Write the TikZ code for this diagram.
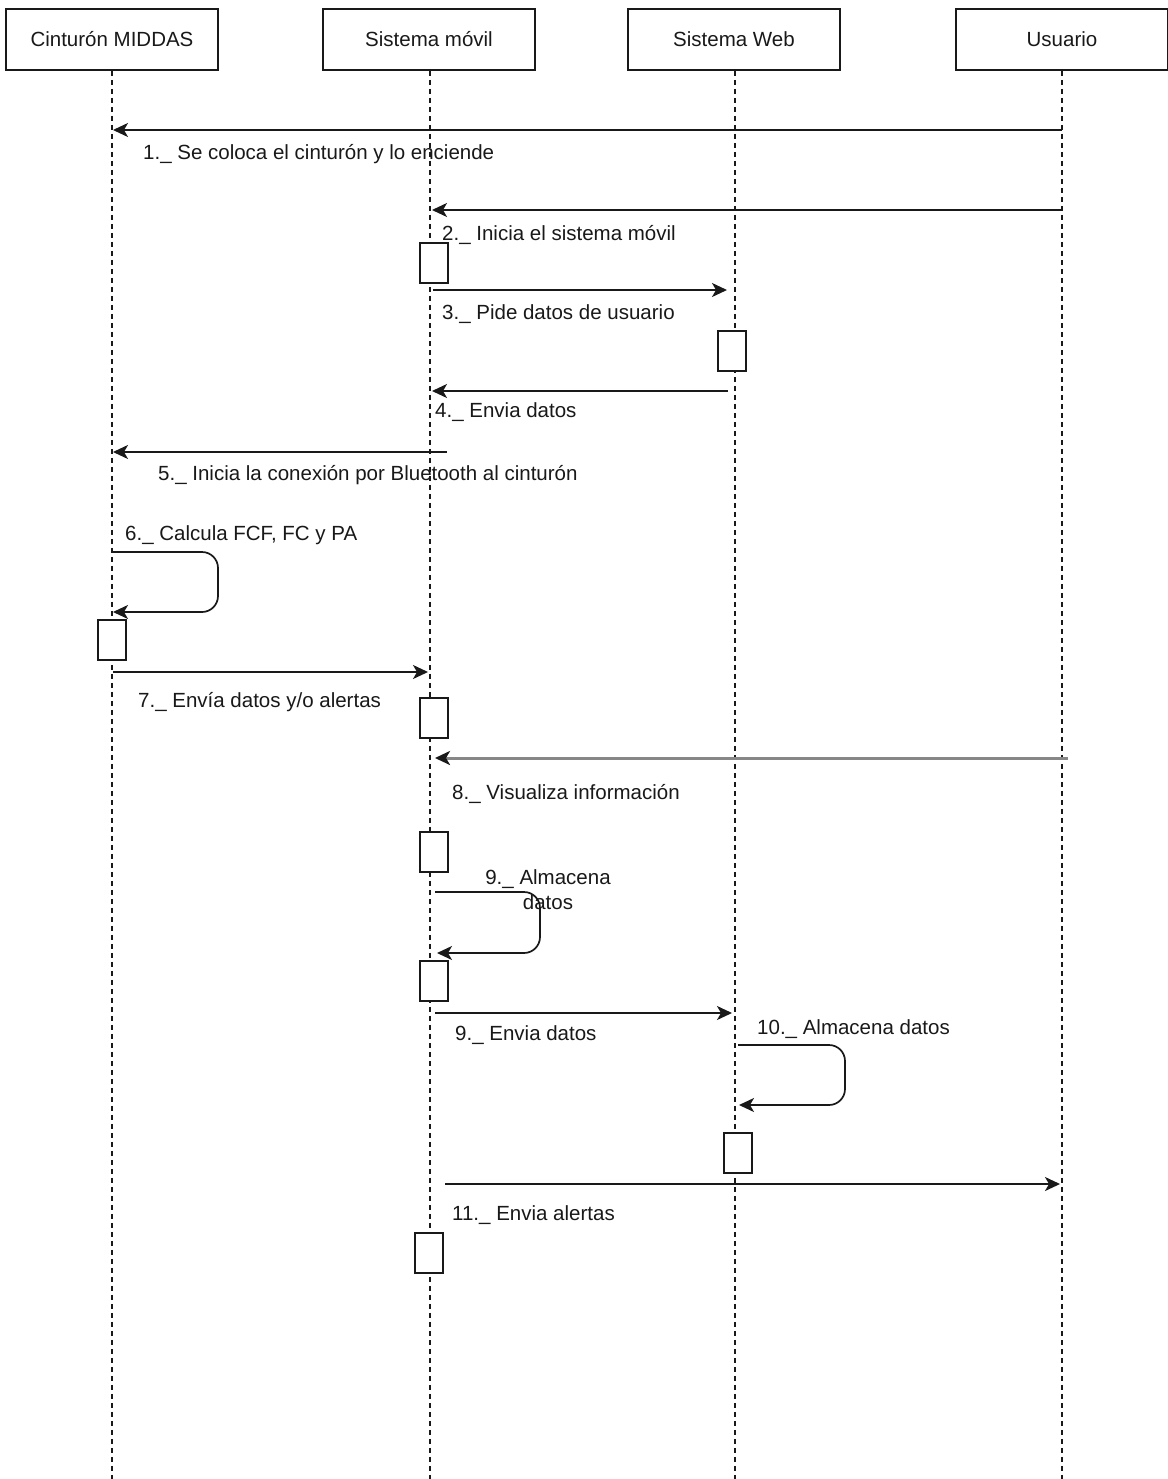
\documentclass[tikz,border=0pt]{standalone}
\usepackage{fontspec}
\setmainfont{Liberation Sans}
\usetikzlibrary{positioning,arrows.meta}
\definecolor{cLine}{RGB}{25,25,25}
\definecolor{cGrey}{RGB}{135,135,135}

\begin{document}
\begin{tikzpicture}[x=1pt, y=-1pt, font=\fontsize{20.5}{25}\selectfont]

%% ── shared styles ─────────────────────────────────────────────────────────
\tikzset{
  actor/.style={
    rectangle, draw=cLine, fill=white, line width=1.6pt,
    minimum width=212pt, minimum height=61pt, inner sep=0pt, text=cLine
  },
  act/.style={
    rectangle, draw=cLine, fill=white, line width=1.8pt,
    minimum width=28pt, minimum height=40pt, inner sep=0pt
  },
  life/.style={cLine, line width=1.4pt, dash pattern=on 5pt off 4pt},
  msg/.style ={-{Stealth[length=15pt, width=14pt, inset=4pt]}, line width=1.7pt, cLine},
  gmsg/.style={-{Stealth[length=15pt, width=14pt, inset=4pt, color=cLine]}, line width=3pt, cGrey},
  selfmsg/.style={msg, rounded corners=16pt},
  lbl/.style={anchor=west, inner sep=0pt, text=cLine},
}

\useasboundingbox (0,0) rectangle (1167,1479);
\fill[white] (0,0) rectangle (1167,1479);

%% ── lifeline x-centres ────────────────────────────────────────────────────
\def\cA{112}
\def\cB{430}
\def\cC{735}
\def\cD{1062}
\def\yEnd{1479}

%% ── participants ──────────────────────────────────────────────────────────
\node[actor] (P1) at (\cA,39.5)  {Cinturón MIDDAS};
\node[actor] (P2) at (429,39.5)  {Sistema móvil};
\node[actor] (P3) at (734,39.5)  {Sistema Web};
\node[actor] (P4) at (\cD,39.5)  {Usuario};

\coordinate (E1) at (\cA,\yEnd);
\coordinate (E2) at (\cB,\yEnd);
\coordinate (E3) at (\cC,\yEnd);
\coordinate (E4) at (\cD,\yEnd);

\draw[life] (P1) -- (E1);
\draw[life] (P2.south -| \cB,0) -- (E2);
\draw[life] (P3.south -| \cC,0) -- (E3);
\draw[life] (P4) -- (E4);

%% ── activation boxes ──────────────────────────────────────────────────────
\node[act] (P2A1) at (434,263)  {};
\node[act] (P3A1) at (732,351)  {};
\node[act] (P1A1) at (112,640)  {};
\node[act] (P2A2) at (434,718)  {};
\node[act] (P2A3) at (434,852)  {};
\node[act] (P2A4) at (434,981)  {};
\node[act] (P3A2) at (738,1153) {};
\node[act] (P2A5) at (429,1253) {};

%% ── message end points ────────────────────────────────────────────────────
\coordinate (M1a) at (\cD,130);   \coordinate (M1b) at (113,130);
\coordinate (M2a) at (\cD,210);   \coordinate (M2b) at (432,210);
\coordinate (M3a) at (433,290);   \coordinate (M3b) at (727,290);
\coordinate (M4a) at (728,391);   \coordinate (M4b) at (432,391);
\coordinate (M5a) at (447,452);   \coordinate (M5b) at (113,452);
\coordinate (M6a) at (\cA,552);   \coordinate (M6b) at (113,612);
\coordinate (M7a) at (113,672);   \coordinate (M7b) at (428,672);
\coordinate (M8a) at (1068,758);  \coordinate (M8b) at (435,758);
\coordinate (M9a) at (435,892);   \coordinate (M9b) at (437,953);
\coordinate (N9a) at (435,1013);  \coordinate (N9b) at (732,1013);
\coordinate (M10a) at (738,1045); \coordinate (M10b) at (739,1105);
\coordinate (M11a) at (445,1184); \coordinate (M11b) at (1060,1184);

%% ── messages ──────────────────────────────────────────────────────────────
\draw[msg]  (M1a) -- (M1b);
\draw[msg]  (M2a) -- (M2b);
\draw[msg]  (M3a) -- (M3b);
\draw[msg]  (M4a) -- (M4b);
\draw[msg]  (M5a) -- (M5b);
\draw[selfmsg] (M6a) -- (218,552) -- (218,612) -- (M6b);
\draw[msg]  (M7a) -- (M7b);
\draw[gmsg] (M8a) -- (M8b);
\draw[selfmsg] (M9a) -- (540,892) -- (540,953) -- (M9b);
\draw[msg]  (N9a) -- (N9b);
\draw[selfmsg] (M10a) -- (845,1045) -- (845,1105) -- (M10b);
\draw[msg]  (M11a) -- (M11b);

%% ── message labels ────────────────────────────────────────────────────────
\node[lbl] (T1)  at (143,154)  {1.\_ Se coloca el cinturón y lo enciende};
\node[lbl] (T2)  at (442,235)  {2.\_ Inicia el sistema móvil};
\node[lbl] (T3)  at (442,314)  {3.\_ Pide datos de usuario};
\node[lbl] (T4)  at (435,412)  {4.\_ Envia datos};
\node[lbl] (T5)  at (158,475)  {5.\_ Inicia la conexión por Bluetooth al cinturón};
\node[lbl] (T6)  at (125,535)  {6.\_ Calcula FCF, FC y PA};
\node[lbl] (T7)  at (138,702)  {7.\_ Envía datos y/o alertas};
\node[lbl] (T8)  at (452,794)  {8.\_ Visualiza información};
\node[inner sep=0pt, align=center, text=cLine] (T9) at (548,890)
  {9.\_ Almacena\\datos};
\node[lbl] (U9)  at (455,1035) {9.\_ Envia datos};
\node[lbl] (T10) at (757,1029) {10.\_ Almacena datos};
\node[lbl] (T11) at (452,1215) {11.\_ Envia alertas};

\end{tikzpicture}
\end{document}
